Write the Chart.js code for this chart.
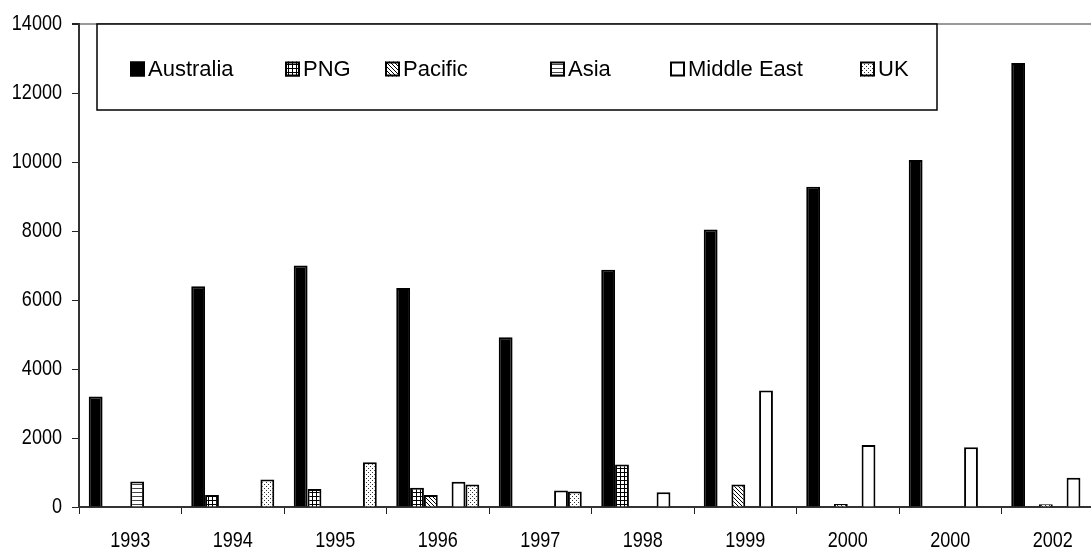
<!DOCTYPE html>
<html>
<head>
<meta charset="utf-8">
<script src="https://cdn.jsdelivr.net/npm/chart.js@4/dist/chart.umd.min.js"></script>
<style>
  html, body { margin: 0; padding: 0; overflow: hidden; background: #fff; }
  #wrap { width: 1104px; height: 548px; position: relative; }
</style>
</head>
<body>
<div id="wrap"><canvas id="c"></canvas></div>
<script>
// Years along the x axis
const categories = ['1993', '1994', '1995', '1996', '1997', '1998', '1999', '2000', '2000', '2002'];

// Series names, in legend order
const seriesNames = ['Australia', 'PNG', 'Pacific', 'Asia', 'Middle East', 'UK'];

// Values per series (null = no bar that year)
const australia  = [3200, 6400, 7000, 6350, 4920, 6880, 8040, 9280, 10060, 12870];
const png        = [null, 350, 520, 560, null, 1230, null, null, null, null];
const pacific    = [null, null, null, 350, null, null, 650, 90, null, 80];
const asia       = [740, null, null, null, null, null, null, null, null, null];
const middleEast = [null, null, null, 730, 480, 430, 3380, 1800, 1730, 850];
const uk         = [null, 800, 1300, 650, 450, null, null, null, null, null];

// Y axis range and step
const yMin = 0;
const yMax = 14000;
const yStep = 2000;

const FONT = "'Liberation Sans', Arial, sans-serif";

// Narrow text: labels are drawn squeezed horizontally around their anchor
const canvas = document.getElementById('c');
const ctx2d = canvas.getContext('2d');
const nativeFillText = ctx2d.fillText.bind(ctx2d);
let textScaleX = 0.82;
ctx2d.fillText = function (text, x, y, maxWidth) {
  const k = textScaleX;
  this.save();
  this.translate(x, y);
  this.scale(k, 1);
  if (maxWidth === undefined || maxWidth === null) nativeFillText(text, 0, 0);
  else nativeFillText(text, 0, 0, maxWidth / k);
  this.restore();
};

// Small monochrome fill patterns
function makePattern(kind) {
  const t = document.createElement('canvas');
  const s = 4;
  t.width = s; t.height = s;
  const g = t.getContext('2d');
  g.fillStyle = '#fff';
  g.fillRect(0, 0, s, s);
  g.fillStyle = '#000';
  if (kind === 'grid') {
    g.fillRect(0, 0, 1, s);
    g.fillRect(0, 0, s, 1);
  } else if (kind === 'diag') {
    for (let i = 0; i < s; i++) g.fillRect(i, i, 1, 1);
  } else if (kind === 'hlines') {
    g.fillStyle = '#444';
    g.fillRect(0, 0, s, 1);
  } else if (kind === 'dots') {
    g.fillStyle = '#333';
    g.fillRect(0, 0, 1, 1);
    g.fillRect(2, 2, 1, 1);
  }
  return ctx2d.createPattern(t, 'repeat');
}

const fills = [
  '#000',
  makePattern('grid'),
  makePattern('diag'),
  makePattern('hlines'),
  '#fff',
  makePattern('dots')
];

const seriesValues = [australia, png, pacific, asia, middleEast, uk];

const datasets = seriesNames.map((name, i) => ({
  label: name,
  data: seriesValues[i],
  backgroundColor: fills[i],
  borderColor: '#000',
  borderWidth: 2,
  borderSkipped: 'start'
}));

// Boxed legend drawn across the top of the plot
const boxLegend = {
  id: 'boxLegend',
  afterDraw(chart, args, opts) {
    const ctx = chart.ctx;
    ctx.save();
    ctx.fillStyle = '#fff';
    ctx.fillRect(opts.x, opts.y, opts.w, opts.h);
    ctx.strokeStyle = '#000';
    ctx.lineWidth = 1.5;
    ctx.strokeRect(opts.x, opts.y, opts.w, opts.h);
    ctx.font = opts.fontSize + 'px ' + FONT;
    ctx.textBaseline = 'middle';
    ctx.textAlign = 'left';
    const cy = opts.cy;
    const prev = textScaleX;
    textScaleX = opts.scaleX;
    chart.data.datasets.forEach((ds, i) => {
      const mx = opts.itemX[i];
      const b = opts.box;
      ctx.fillStyle = ds.backgroundColor;
      ctx.fillRect(mx, cy - b / 2, b, b);
      ctx.strokeStyle = '#000';
      ctx.lineWidth = 2;
      ctx.strokeRect(mx + 1, cy - b / 2 + 1, b - 2, b - 2);
      ctx.fillStyle = '#000';
      ctx.fillText(ds.label, mx + b + opts.gap, cy + 1);
    });
    textScaleX = prev;
    ctx.restore();
  }
};

new Chart(canvas, {
  type: 'bar',
  data: { labels: categories, datasets },
  plugins: [boxLegend],
  options: {
    responsive: true,
    maintainAspectRatio: false,
    animation: false,
    layout: { padding: { top: 24, left: 0, right: 0, bottom: 0 } },
    datasets: { bar: { barPercentage: 1, categoryPercentage: 0.81 } },
    plugins: {
      legend: { display: false },
      tooltip: { enabled: false },
      boxLegend: {
        x: 97, y: 24, w: 840, h: 86, cy: 69,
        box: 15, gap: 3, fontSize: 22, scaleX: 1.0,
        itemX: [130, 285, 385, 550, 670, 860]
      }
    },
    scales: {
      x: {
        grid: { offset: true, drawOnChartArea: false, tickLength: 7, color: '#222', lineWidth: 1 },
        border: { color: '#333', width: 2 },
        ticks: { color: '#000', font: { family: FONT, size: 22 }, padding: 14, maxRotation: 0, autoSkip: false },
        afterFit: s => { s.height = 41; }
      },
      y: {
        min: yMin,
        max: yMax,
        ticks: {
          stepSize: yStep,
          color: '#000',
          font: { family: FONT, size: 22 },
          padding: 10,
          callback: v => String(v)
        },
        grid: {
          drawOnChartArea: true,
          color: c => (c.tick && c.tick.value === yMax) ? '#999' : 'rgba(0,0,0,0)',
          lineWidth: c => (c.tick && c.tick.value === yMax) ? 2 : 1,
          tickColor: '#222',
          tickLength: 7
        },
        border: { color: '#333', width: 2 },
        afterFit: s => { s.width = 79; }
      }
    }
  }
});
</script>
</body>
</html>
